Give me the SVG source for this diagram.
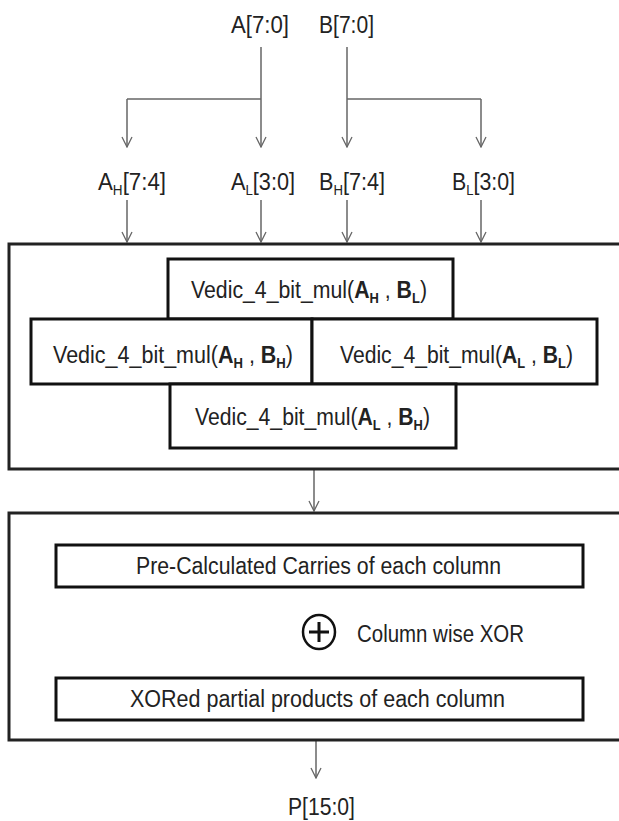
<svg xmlns="http://www.w3.org/2000/svg" width="619" height="821" viewBox="0 0 619 821">
<style>
text{font-family:"Liberation Sans",Arial,sans-serif;fill:#222;}
.lbl{font-size:23px;}
.fn{font-size:23px;}
.b{font-weight:bold;}
.sub{font-size:14px;}
.outer{fill:none;stroke:#222;stroke-width:3;}
.box{fill:#fff;stroke:#111;stroke-width:3;}
.wire{fill:none;stroke:#666;stroke-width:1.5;}
</style>
<defs>
<marker id="arr" markerWidth="14" markerHeight="12" refX="13" refY="6" orient="auto" markerUnits="userSpaceOnUse">
<path d="M3,1 L13,6 L3,11" fill="none" stroke="#666" stroke-width="1.3"/>
</marker>
</defs>
<rect width="619" height="821" fill="#fff"/>

<g id="connectors">
<path class="wire" d="M261,47 V99"/>
<path class="wire" d="M347,47 V99"/>
<path class="wire" d="M127,99 H261"/>
<path class="wire" d="M347,99 H481"/>
<path class="wire" d="M127,99 V147" marker-end="url(#arr)"/>
<path class="wire" d="M261,99 V147" marker-end="url(#arr)"/>
<path class="wire" d="M347,99 V147" marker-end="url(#arr)"/>
<path class="wire" d="M481,99 V147" marker-end="url(#arr)"/>
<path class="wire" d="M127,200 V242" marker-end="url(#arr)"/>
<path class="wire" d="M261,200 V242" marker-end="url(#arr)"/>
<path class="wire" d="M347,200 V242" marker-end="url(#arr)"/>
<path class="wire" d="M481,200 V242" marker-end="url(#arr)"/>
<path class="wire" d="M314,470 V511" marker-end="url(#arr)"/>
<path class="wire" d="M316,741 V778" marker-end="url(#arr)"/>
</g>

<g id="inA"><text class="lbl" x="231" y="33" textLength="58" lengthAdjust="spacingAndGlyphs">A[7:0]</text></g>
<g id="inB"><text class="lbl" x="319" y="33" textLength="55" lengthAdjust="spacingAndGlyphs">B[7:0]</text></g>

<g id="AH"><text class="lbl" x="98" y="190" textLength="68" lengthAdjust="spacingAndGlyphs">A<tspan class="sub" dy="5">H</tspan><tspan dy="-5">[7:4]</tspan></text></g>
<g id="AL"><text class="lbl" x="231" y="190" textLength="64" lengthAdjust="spacingAndGlyphs">A<tspan class="sub" dy="5">L</tspan><tspan dy="-5">[3:0]</tspan></text></g>
<g id="BH"><text class="lbl" x="319" y="190" textLength="66" lengthAdjust="spacingAndGlyphs">B<tspan class="sub" dy="5">H</tspan><tspan dy="-5">[7:4]</tspan></text></g>
<g id="BL"><text class="lbl" x="452" y="190" textLength="63" lengthAdjust="spacingAndGlyphs">B<tspan class="sub" dy="5">L</tspan><tspan dy="-5">[3:0]</tspan></text></g>

<g id="stage1">
<path class="outer" d="M625,244 H9 V469 H625"/>
</g>
<g id="mulAHBL">
<rect class="box" x="168" y="259" width="285" height="60"/>
<text class="fn" x="191" y="298" textLength="236" lengthAdjust="spacingAndGlyphs">Vedic_4_bit_mul(<tspan class="b">A</tspan><tspan class="sub b" dy="5">H</tspan><tspan dy="-5"> , </tspan><tspan class="b">B</tspan><tspan class="sub b" dy="5">L</tspan><tspan dy="-5">)</tspan></text>
</g>
<g id="mulAHBH">
<rect class="box" x="31" y="319" width="281" height="65"/>
<text class="fn" x="53" y="363" textLength="240" lengthAdjust="spacingAndGlyphs">Vedic_4_bit_mul(<tspan class="b">A</tspan><tspan class="sub b" dy="5">H</tspan><tspan dy="-5"> , </tspan><tspan class="b">B</tspan><tspan class="sub b" dy="5">H</tspan><tspan dy="-5">)</tspan></text>
</g>
<g id="mulALBL">
<rect class="box" x="312" y="319" width="285" height="65"/>
<text class="fn" x="340" y="363" textLength="233" lengthAdjust="spacingAndGlyphs">Vedic_4_bit_mul(<tspan class="b">A</tspan><tspan class="sub b" dy="5">L</tspan><tspan dy="-5"> , </tspan><tspan class="b">B</tspan><tspan class="sub b" dy="5">L</tspan><tspan dy="-5">)</tspan></text>
</g>
<g id="mulALBH">
<rect class="box" x="170" y="384" width="286" height="64"/>
<text class="fn" x="195" y="425" textLength="235" lengthAdjust="spacingAndGlyphs">Vedic_4_bit_mul(<tspan class="b">A</tspan><tspan class="sub b" dy="5">L</tspan><tspan dy="-5"> , </tspan><tspan class="b">B</tspan><tspan class="sub b" dy="5">H</tspan><tspan dy="-5">)</tspan></text>
</g>

<g id="stage2">
<path class="outer" d="M625,513 H9 V740 H625"/>
</g>
<g id="carries">
<rect class="box" x="56" y="545" width="527" height="42"/>
<text class="fn" x="136" y="574" textLength="365" lengthAdjust="spacingAndGlyphs">Pre-Calculated Carries of each column</text>
</g>
<g id="xor">
<ellipse cx="319" cy="632" rx="16" ry="17" fill="none" stroke="#111" stroke-width="2.5"/>
<path d="M319,622 V642 M309,632 H329" stroke="#111" stroke-width="3"/>
<text class="fn" x="357" y="642" textLength="167" lengthAdjust="spacingAndGlyphs">Column wise XOR</text>
</g>
<g id="xored">
<rect class="box" x="56" y="678" width="527" height="42"/>
<text class="fn" x="130" y="707" textLength="375" lengthAdjust="spacingAndGlyphs">XORed partial products of each column</text>
</g>

<g id="outP"><text class="lbl" x="288" y="815" textLength="67" lengthAdjust="spacingAndGlyphs">P[15:0]</text></g>
</svg>
